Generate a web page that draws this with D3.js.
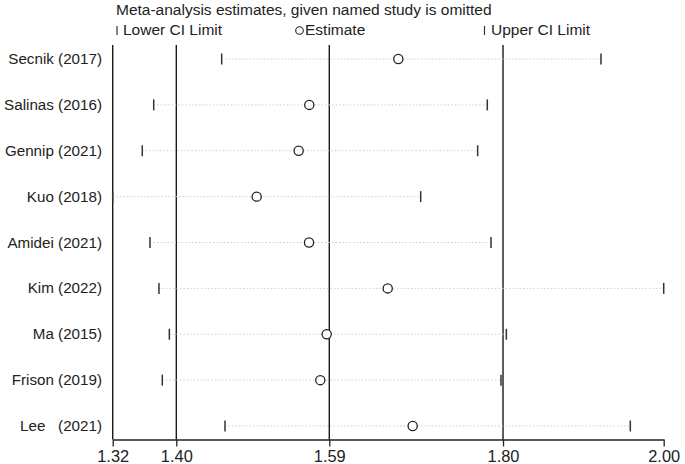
<!DOCTYPE html>
<html>
<head>
<meta charset="utf-8">
<script src="https://cdn.jsdelivr.net/npm/d3@7"></script>
<style>
  html, body { margin: 0; padding: 0; background: #fff; }
  svg { display: block; font-family: "Liberation Sans", Arial, sans-serif; }
</style>
</head>
<body>
<svg id="chart" width="685" height="464"></svg>
<script>
// ---- data ----
const studies = ["Secnik (2017)", "Salinas (2016)", "Gennip (2021)", "Kuo (2018)", "Amidei (2021)",
                 "Kim (2022)", "Ma (2015)", "Frison (2019)", "Lee   (2021)"];
const estimates = [1.6725, 1.5626, 1.5495, 1.4977, 1.5623, 1.6594, 1.5841, 1.5762, 1.6902];
const lowerCI   = [1.4545, 1.3706, 1.3565, 1.3200, 1.3660, 1.3771, 1.3899, 1.3812, 1.4586];
const upperCI   = [1.9226, 1.7823, 1.7704, 1.7001, 1.7869, 2.0000, 1.8058, 1.7992, 1.9588];
const tickValues = [1.32, 1.3985, 1.5873, 1.8017, 2.00];
const tickLabels = ["1.32", "1.40", "1.59", "1.80", "2.00"];
const refLines   = [1.32, 1.3985, 1.5873, 1.8017];
const titleText = "Meta-analysis estimates, given named study is omitted";

// ---- layout ----
const svg = d3.select("#chart");
const x = d3.scaleLinear().domain([1.32, 2.00]).range([112.7, 663.7]);
const y = d3.scalePoint().domain(studies).range([59, 426]);
const axisY = 439.5, topY = 45;

// reference vertical lines
svg.selectAll("line.ref").data(refLines).enter().append("line")
  .attr("class", "ref")
  .attr("x1", d => x(d)).attr("x2", d => x(d))
  .attr("y1", topY).attr("y2", axisY)
  .attr("stroke", "#1a1a1a").attr("stroke-width", 1.4);

// dotted connector lines
svg.selectAll("line.conn").data(studies).enter().append("line")
  .attr("class", "conn")
  .attr("x1", (d, i) => x(lowerCI[i])).attr("x2", (d, i) => x(upperCI[i]))
  .attr("y1", d => y(d)).attr("y2", d => y(d))
  .attr("stroke", "#cfcfcf").attr("stroke-width", 1).attr("stroke-dasharray", "1.5,2");

// CI limit bars
const drawBars = (vals, cls) => svg.selectAll("line." + cls).data(studies).enter().append("line")
  .attr("class", cls)
  .attr("x1", (d, i) => x(vals[i])).attr("x2", (d, i) => x(vals[i]))
  .attr("y1", d => y(d) - 5.5).attr("y2", d => y(d) + 5.5)
  .attr("stroke", "#333").attr("stroke-width", 1.5);
drawBars(lowerCI, "lo");
drawBars(upperCI, "hi");

// estimate circles
svg.selectAll("circle.est").data(studies).enter().append("circle")
  .attr("class", "est")
  .attr("cx", (d, i) => x(estimates[i])).attr("cy", d => y(d))
  .attr("r", 4.6).attr("fill", "#fff").attr("stroke", "#222").attr("stroke-width", 1.3);

// study labels
svg.selectAll("text.lab").data(studies).enter().append("text")
  .attr("class", "lab")
  .attr("x", 102).attr("y", d => y(d) + 5)
  .attr("text-anchor", "end").attr("font-size", 15.2).attr("fill", "#222")
  .style("white-space", "pre")
  .text(d => d);

// x axis
const axis = d3.axisBottom(x).tickValues(tickValues)
  .tickFormat((d, i) => tickLabels[i]).tickSize(7).tickSizeOuter(0);
const gx = svg.append("g").attr("transform", `translate(0,${axisY})`).call(axis);
gx.select(".domain").attr("stroke", "#222").attr("stroke-width", 1.3);
gx.selectAll(".tick line").attr("stroke", "#222").attr("stroke-width", 1.3);
gx.selectAll(".tick text").attr("font-size", 16.4).attr("fill", "#222")
  .attr("font-family", "Liberation Sans, Arial, sans-serif").attr("dy", 0).attr("y", 22);

// title
svg.append("text").attr("x", 116).attr("y", 15).attr("font-size", 15.5).attr("fill", "#222").text(titleText);

// legend
const legY = 35;
svg.append("line").attr("x1", 117).attr("x2", 117).attr("y1", legY - 9).attr("y2", legY)
  .attr("stroke", "#333").attr("stroke-width", 1.2);
svg.append("text").attr("x", 123).attr("y", legY).attr("font-size", 15.5).attr("fill", "#222").text("Lower CI Limit");
svg.append("circle").attr("cx", 299.5).attr("cy", legY - 4.5).attr("r", 3.8)
  .attr("fill", "#fff").attr("stroke", "#222").attr("stroke-width", 1.1);
svg.append("text").attr("x", 305).attr("y", legY).attr("font-size", 15.5).attr("fill", "#222").text("Estimate");
svg.append("line").attr("x1", 484.5).attr("x2", 484.5).attr("y1", legY - 9).attr("y2", legY)
  .attr("stroke", "#333").attr("stroke-width", 1.2);
svg.append("text").attr("x", 491).attr("y", legY).attr("font-size", 15.5).attr("fill", "#222").text("Upper CI Limit");
</script>
</body>
</html>
